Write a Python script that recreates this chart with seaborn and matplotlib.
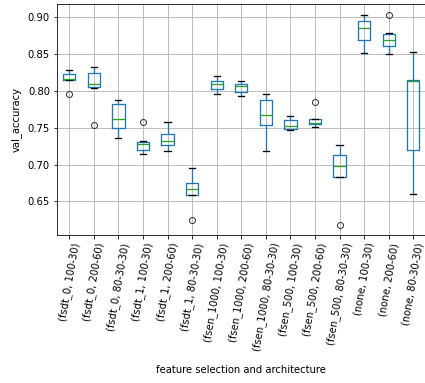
import numpy as np
import pandas as pd
import matplotlib
matplotlib.use("Agg")
import matplotlib.pyplot as plt
import seaborn as sns

configs = [
    "(fsdt_0, 100-30)", "(fsdt_0, 200-60)", "(fsdt_0, 80-30-30)",
    "(fsdt_1, 100-30)", "(fsdt_1, 200-60)", "(fsdt_1, 80-30-30)",
    "(fsen_1000, 100-30)", "(fsen_1000, 200-60)", "(fsen_1000, 80-30-30)",
    "(fsen_500, 100-30)", "(fsen_500, 200-60)", "(fsen_500, 80-30-30)",
    "(none, 100-30)", "(none, 200-60)", "(none, 80-30-30)",
]

# validation accuracy of the runs for each configuration
fsdt_0_100_30 = [0.796, 0.8145, 0.815, 0.815, 0.8163, 0.8222, 0.8222, 0.8275, 0.8275]
fsdt_0_200_60 = [0.7538, 0.8033, 0.8046, 0.8046, 0.8087, 0.8235, 0.8235, 0.8316, 0.8316]
fsdt_0_80_30_30 = [0.7354, 0.7489, 0.7619, 0.7826, 0.7876]
fsdt_1_100_30 = [0.7138, 0.7138, 0.7196, 0.7196, 0.7273, 0.7304, 0.7304, 0.7322, 0.757]
fsdt_1_200_60 = [0.7178, 0.7259, 0.7322, 0.7412, 0.757]
fsdt_1_80_30_30 = [0.6243, 0.6589, 0.6589, 0.6589, 0.6675, 0.675, 0.675, 0.6949, 0.6949]
fsen_1000_100_30 = [0.7961, 0.8019, 0.8092, 0.8136, 0.8204]
fsen_1000_200_60 = [0.7934, 0.7988, 0.806, 0.8087, 0.8136]
fsen_1000_80_30_30 = [0.7182, 0.7529, 0.7673, 0.7876, 0.7957]
fsen_500_100_30 = [0.7471, 0.7484, 0.752, 0.7597, 0.7655]
fsen_500_200_60 = [0.7502, 0.7502, 0.7543, 0.7543, 0.7565, 0.7619, 0.7619, 0.7619, 0.7844]
fsen_500_80_30_30 = [0.618, 0.6837, 0.6837, 0.6837, 0.698, 0.7124, 0.7124, 0.7264, 0.7264]
none_100_30 = [0.851, 0.8685, 0.8856, 0.895, 0.9027]
none_200_60 = [0.8501, 0.8501, 0.8605, 0.8605, 0.8685, 0.877, 0.877, 0.8784, 0.9025]
none_80_30_30 = [0.6607, 0.7196, 0.8127, 0.8146, 0.8524]

runs = [
    fsdt_0_100_30, fsdt_0_200_60, fsdt_0_80_30_30,
    fsdt_1_100_30, fsdt_1_200_60, fsdt_1_80_30_30,
    fsen_1000_100_30, fsen_1000_200_60, fsen_1000_80_30_30,
    fsen_500_100_30, fsen_500_200_60, fsen_500_80_30_30,
    none_100_30, none_200_60, none_80_30_30,
]

df = pd.DataFrame({
    "config": [c for c, r in zip(configs, runs) for _ in r],
    "val_accuracy": [v for r in runs for v in r],
})

plt.rcParams["font.size"] = 10
fig = plt.figure(figsize=(425 / 72, 383 / 72), dpi=72)
ax = fig.add_axes([57 / 425, 1 - 235 / 383, 368.5 / 425, 231 / 383])

sns.boxplot(
    data=df, x="config", y="val_accuracy", order=configs, ax=ax,
    fill=False, color="#1f77b4", width=0.5, linewidth=1.3, whis=1.5,
    medianprops=dict(color="#2ca02c"),
    capprops=dict(color="k"),
    flierprops=dict(marker="o", markerfacecolor="none",
                    markeredgecolor="#333333", markersize=6),
)

ax.grid(True, color="#b0b0b0", linewidth=0.8)
ax.set_axisbelow(True)
ax.set_ylim(0.6045, 0.9175)
ax.set_xlim(-0.5, 14.5)
ax.set_yticks([0.65, 0.70, 0.75, 0.80, 0.85, 0.90])
plt.setp(ax.get_xticklabels(), rotation=80, ha="center")
ax.set_xlabel("feature selection and architecture", labelpad=13)
ax.set_ylabel("val_accuracy", labelpad=6)

fig.savefig("out.png", dpi=72)
